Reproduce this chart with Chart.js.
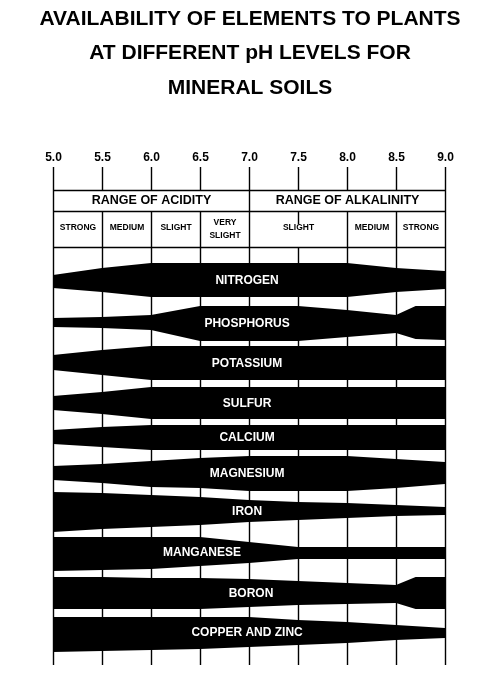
<!DOCTYPE html>
<html>
<head>
<meta charset="utf-8">
<script src="https://cdn.jsdelivr.net/npm/chart.js@4"></script>
<style>
  html,body{margin:0;padding:0;background:#fff;}
  canvas{display:block;}
</style>
</head>
<body>
<canvas id="myChart" width="500" height="681"></canvas>
<script>
// pH ticks and header rows
var phTicks=[5.0,5.5,6.0,6.5,7.0,7.5,8.0,8.5,9.0];
var rangeLabels=[['RANGE OF ACIDITY',5.0,7.0],['RANGE OF ALKALINITY',7.0,9.0]];
var strengthLabels=[['STRONG',5.0,5.5],['MEDIUM',5.5,6.0],['SLIGHT',6.0,6.5],['VERY\nSLIGHT',6.5,7.0],['SLIGHT',7.0,8.0],['MEDIUM',8.0,8.5],['STRONG',8.5,9.0]];

// elements: band edges (vertical units = picture rows)
var elementNames=['NITROGEN','PHOSPHORUS','POTASSIUM','SULFUR','CALCIUM','MAGNESIUM','IRON','MANGANESE','BORON','COPPER AND ZINC'];
var elementPh=[
  [5,5.5,6,6.5,7,7.5,8,8.5,9],
  [5,5.5,6,6.5,7,7.5,8,8.5,8.7,9],
  [5,5.5,6,6.5,7,7.5,8,8.5,9],
  [5,5.5,6,6.5,7,7.5,8,8.5,9],
  [5,5.5,6,6.5,7,7.5,8,8.5,9],
  [5,5.5,6,6.5,7,7.5,8,8.5,9],
  [5,5.5,6,6.5,7,7.5,8,8.5,9],
  [5,5.5,6,6.5,7,7.5,8,8.5,9],
  [5,5.5,6,6.5,7,7.5,8,8.5,8.7,9],
  [5,5.5,6,6.5,7,7.5,8,8.5,9]
];
var elementTop=[
  [275,268,263,263,263,263,263,268,271],
  [318,317,315,306,306,306,310,315,306,306],
  [355,350,346,346,346,346,346,346,346],
  [396,392,387,387,387,387,387,387,387],
  [430,427,425,425,425,425,425,425,425],
  [466,464,461,458,456,456,456,459,462],
  [492,493,495,497,500,502,503,505,507],
  [537,537,537,537,542,547,547,547,547],
  [577,577,578,578,579,581,583,585,577,577],
  [617,617,617,617,617,620,622,625,628]
];
var elementBottom=[
  [288,292,297,297,297,297,297,292,289],
  [327,328,330,341,341,341,337,333,339,340],
  [370,375,380,380,380,380,380,380,380],
  [410,414,419,419,419,419,419,419,419],
  [444,447,450,450,450,450,450,450,450],
  [480,483,487,488,491,491,491,488,484],
  [532,529,527,525,522,520,518,516,515],
  [571,570,569,566,563,559,559,559,559],
  [609,609,609,609,607,605,604,603,609,609],
  [652,651,650,649,647,645,643,640,638]
];
var labelPh=[6.98,6.98,6.98,6.98,6.98,6.98,6.98,6.52,7.02,6.98];

var datasets=[];
for(var i=0;i<elementNames.length;i++){
  var upper=[],lower=[];
  for(var j=0;j<elementPh[i].length;j++){
    upper.push({x:elementPh[i][j],y:elementTop[i][j]});
    lower.push({x:elementPh[i][j],y:elementBottom[i][j]});
  }
  datasets.push({label:elementNames[i]+' top',data:upper,borderWidth:0,pointRadius:0,tension:0,fill:false,borderColor:'#000'});
  datasets.push({label:elementNames[i]+' bottom',data:lower,borderWidth:0,pointRadius:0,tension:0,fill:'-1',backgroundColor:'#000',borderColor:'#000'});
}

var FONT='"Liberation Sans", Arial, sans-serif';

var sheetPlugin={
  id:'sheet',
  beforeDatasetsDraw:function(chart){
    var c=chart.ctx,xs=chart.scales.x,ys=chart.scales.y;
    var X=function(v){return Math.round(xs.getPixelForValue(v))+0.5;};
    var Y=function(v){return ys.getPixelForValue(v);};
    c.save();
    // title
    c.fillStyle='#000';c.textAlign='center';c.textBaseline='middle';
    c.font='bold 21px '+FONT;
    c.fillText('AVAILABILITY OF ELEMENTS TO PLANTS',250,Y(19));
    c.fillText('AT DIFFERENT pH LEVELS FOR',250,Y(53));
    c.fillText('MINERAL SOILS',250,Y(88));
    // tick labels
    c.font='bold 12px '+FONT;
    phTicks.forEach(function(p){c.fillText(p.toFixed(1),X(p),Y(158));});
    c.strokeStyle='#000';c.lineWidth=1.4;
    // vertical lines
    phTicks.forEach(function(p){
      c.beginPath();
      if(p==5||p==9||p==7){c.moveTo(X(p),Y(167));c.lineTo(X(p),Y(665));}
      else if(p==7.5){c.moveTo(X(p),Y(167));c.lineTo(X(p),Y(190));c.moveTo(X(p),Y(211));c.lineTo(X(p),Y(224));c.moveTo(X(p),Y(247));c.lineTo(X(p),Y(665));}
      else{c.moveTo(X(p),Y(167));c.lineTo(X(p),Y(190));c.moveTo(X(p),Y(211));c.lineTo(X(p),Y(665));}
      c.stroke();
    });
    // header box lines
    [190,211,247].forEach(function(h){
      c.beginPath();c.moveTo(X(5),Math.round(Y(h))+0.5);c.lineTo(X(9),Math.round(Y(h))+0.5);c.stroke();
    });
    c.font='bold 12.5px '+FONT;
    rangeLabels.forEach(function(r){c.fillText(r[0],(X(r[1])+X(r[2]))/2,Y(201));});
    c.font='bold 8.5px '+FONT;
    strengthLabels.forEach(function(s){
      var lines=s[0].split('\n'),cx=(X(s[1])+X(s[2]))/2;
      if(lines.length==1){c.fillText(lines[0],cx,Y(228));}
      else{c.fillText(lines[0],cx,Y(223));c.fillText(lines[1],cx,Y(236));}
    });
    c.restore();
  },
  afterDatasetsDraw:function(chart){
    var c=chart.ctx,xs=chart.scales.x,ys=chart.scales.y;
    c.save();
    c.fillStyle='#fff';c.textAlign='center';c.textBaseline='middle';
    c.font='bold 12px '+FONT;
    for(var i=0;i<elementNames.length;i++){
      var k=elementPh[i].indexOf(7);
      var mid=(elementTop[i][k]+elementBottom[i][k])/2;
      c.fillText(elementNames[i],xs.getPixelForValue(labelPh[i]),ys.getPixelForValue(mid)+0.5);
    }
    c.restore();
  }
};

var ctx=document.getElementById('myChart').getContext('2d');
var chart=new Chart(ctx,{
  type:'line',
  data:{datasets:datasets},
  options:{
    responsive:false,
    animation:false,
    layout:{padding:0},
    plugins:{legend:{display:false},tooltip:{enabled:false}},
    scales:{
      x:{type:'linear',min:4.459,max:9.561,display:false},
      y:{type:'linear',min:0,max:681,reverse:true,display:false}
    }
  },
  plugins:[sheetPlugin]
});
</script>
</body>
</html>
